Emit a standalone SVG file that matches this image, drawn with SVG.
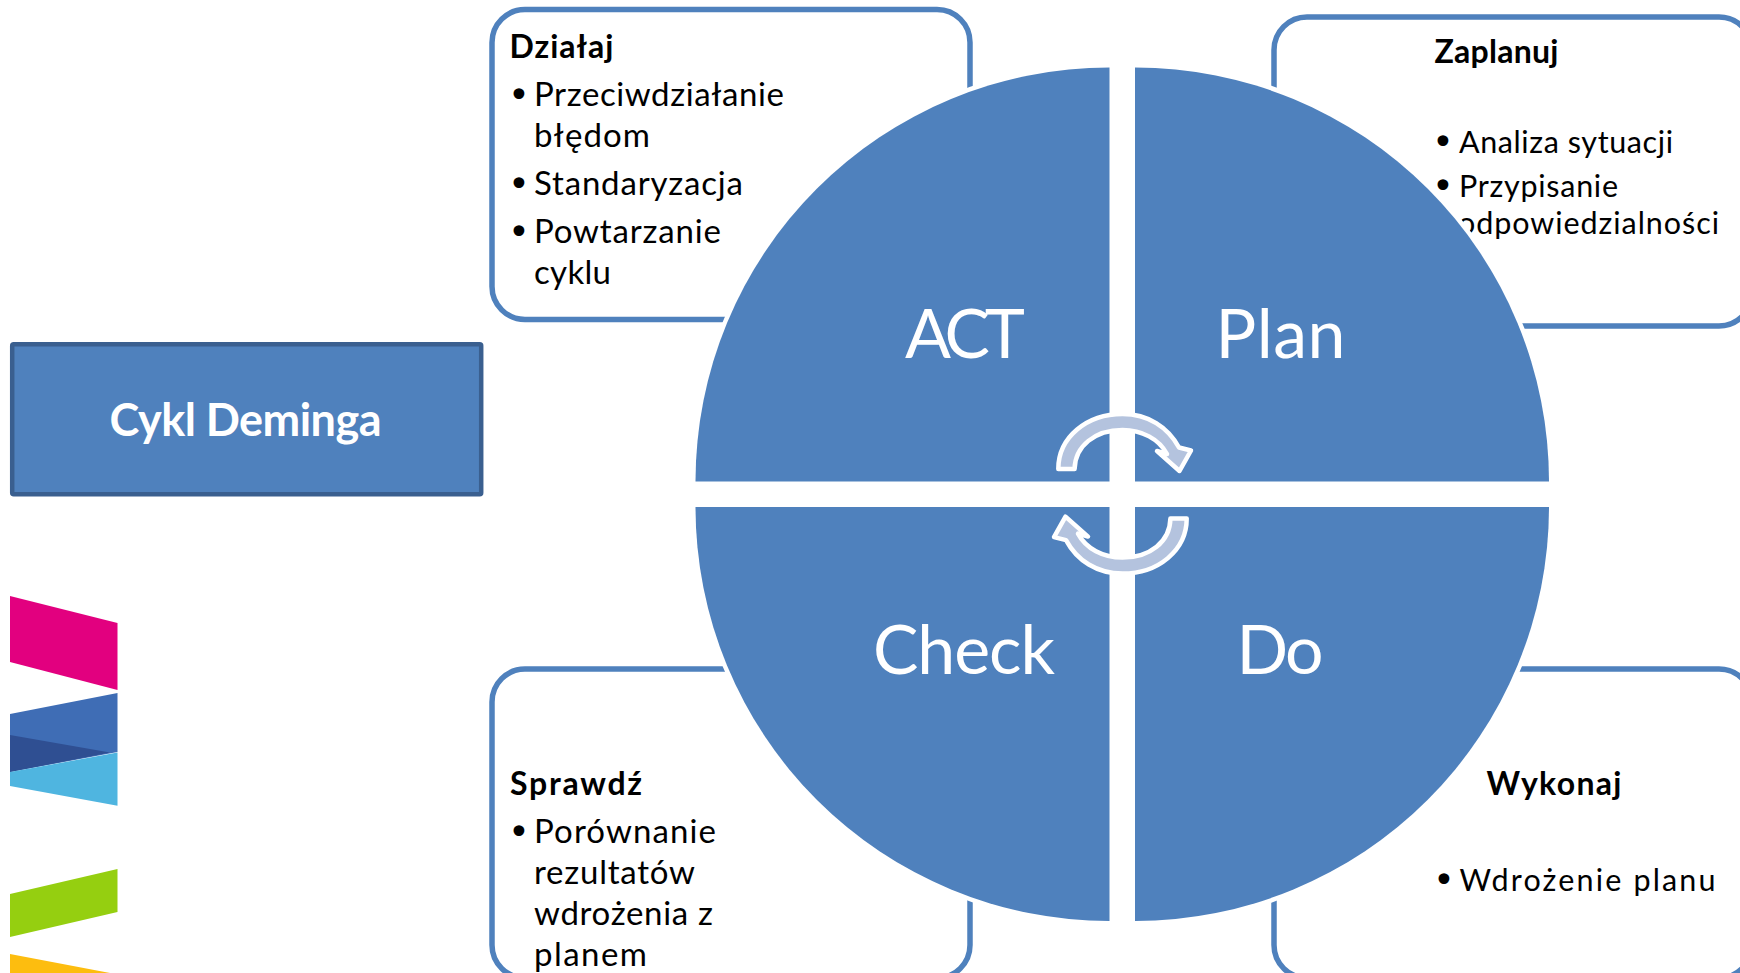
<svg xmlns="http://www.w3.org/2000/svg" width="1740" height="973" viewBox="0 0 1740 973">
<style>
.card{fill:#fff;stroke:#4f81bd;stroke-width:5.5}
.quad{fill:#4f81bd;stroke:#fff;stroke-width:9;paint-order:stroke}
.big{font:400 68px Lato,"Open Sans",sans-serif;fill:#fff}
.h{font:700 32px Lato,"Open Sans",sans-serif;fill:#000}
.b{font:400 33px Lato,"Open Sans",sans-serif;fill:#000}
.s{font:400 30.5px Lato,"Open Sans",sans-serif;fill:#000}
.dot{font:400 37px "DejaVu Sans",sans-serif;fill:#000}
.arrow{fill:#b4c3de;stroke:#fff;stroke-width:4.5;stroke-linejoin:round}
</style>
<rect width="1740" height="973" fill="#fff"/>
<g id="logo">
<polygon points="10,596 117.5,623 117.5,690 10,662" fill="#e2007f"/>
<polygon points="10,714 117.5,693 117.5,752 10,772" fill="#3f6db5"/>
<polygon points="10,735 110,752.5 10,772" fill="#2f4f92"/>
<polygon points="10,772 117.5,752.6 117.5,805.7 10,786" fill="#4fb5e0"/>
<polygon points="10,894 117.5,869 117.5,912 10,937" fill="#95cf10"/>
<polygon points="10,954 110,973 10,973" fill="#fdbd0f"/>
</g>
<g id="title">
<rect x="12.2" y="344.2" width="469" height="150" rx="1.5" fill="#4f81bd" stroke="#3a5f8f" stroke-width="4.5"/>
<text x="109.5" y="436" font-family="Lato,'Open Sans',sans-serif" font-weight="700" font-size="45" fill="#fff" textLength="272">Cykl Deminga</text>
</g>
<g id="card-act">
<rect class="card" x="492" y="9.5" width="478" height="310" rx="33"/>
<text class="h" x="509.5" y="58" textLength="104">Działaj</text>
<text class="dot" x="508" y="107.5">•</text>
<text class="b" x="534" y="106" textLength="250">Przeciwdziałanie</text>
<text class="b" x="534" y="147" textLength="116">błędom</text>
<text class="dot" x="508" y="196.5">•</text>
<text class="b" x="534" y="195" textLength="209">Standaryzacja</text>
<text class="dot" x="508" y="244.5">•</text>
<text class="b" x="534" y="243" textLength="187">Powtarzanie</text>
<text class="b" x="534" y="284" textLength="77">cyklu</text>
</g>
<g id="card-plan">
<rect class="card" x="1274" y="17" width="478" height="309" rx="33"/>
<text class="h" x="1434.5" y="63" textLength="124">Zaplanuj</text>
<text class="dot" x="1432" y="154.5">•</text>
<text class="s" x="1459" y="152.5" textLength="214">Analiza sytuacji</text>
<text class="dot" x="1432" y="198.5">•</text>
<text class="s" x="1459" y="196.5" textLength="159">Przypisanie</text>
<text class="s" x="1458" y="233.5" textLength="261">odpowiedzialności</text>
</g>
<g id="card-check">
<rect class="card" x="492" y="669" width="478" height="309" rx="33"/>
<text class="h" x="510" y="795" textLength="132">Sprawdź</text>
<text class="dot" x="508" y="844.5">•</text>
<text class="b" x="534" y="843" textLength="182">Porównanie</text>
<text class="b" x="534" y="884" textLength="161">rezultatów</text>
<text class="b" x="534" y="925" textLength="179">wdrożenia z</text>
<text class="b" x="534" y="966" textLength="113">planem</text>
</g>
<g id="card-do">
<rect class="card" x="1274" y="669" width="478" height="309" rx="33"/>
<text class="h" x="1486.5" y="795" textLength="135">Wykonaj</text>
<text class="dot" x="1433" y="892.5">•</text>
<text class="s" x="1459.5" y="890.5" textLength="256">Wdrożenie planu</text>
</g>
<g id="quad-act">
<path class="quad" d="M1109.5,481.5H695.5A414,414 0 0 1 1109.5,67.5Z"/>
<text class="big" x="905" y="358" textLength="120">ACT</text>
</g>
<g id="quad-plan">
<path class="quad" d="M1135,481.5V67.5A414,414 0 0 1 1549,481.5Z"/>
<text class="big" x="1215.5" y="358" textLength="130">Plan</text>
</g>
<g id="quad-check">
<path class="quad" d="M1109.5,507H695.5A414,414 0 0 0 1109.5,921Z"/>
<text class="big" x="873" y="674" textLength="182">Check</text>
</g>
<g id="quad-do">
<path class="quad" d="M1135,507V921A414,414 0 0 0 1549,507Z"/>
<text class="big" x="1236.5" y="674" textLength="87">Do</text>
</g>
<g id="connectors">
<path id="cycle-top" class="arrow" d="M1058.3,469C1058.3,437 1087,414 1122.5,414C1148,414 1168,427 1179,447.5L1191,450.5L1179.5,471L1157,451L1167,454C1159,439 1142,430 1122.5,430C1095,430 1075,446 1074.6,469Z"/>
<path id="cycle-bottom" class="arrow" transform="rotate(180 1122.5 493.8)" d="M1058.3,469C1058.3,437 1087,414 1122.5,414C1148,414 1168,427 1179,447.5L1191,450.5L1179.5,471L1157,451L1167,454C1159,439 1142,430 1122.5,430C1095,430 1075,446 1074.6,469Z"/>
</g>
</svg>
